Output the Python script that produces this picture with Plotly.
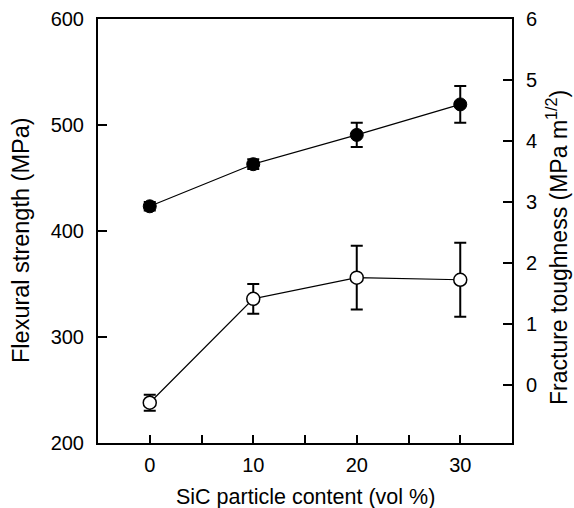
import plotly.graph_objects as go

sic_content = [0, 10, 20, 30]
flexural_strength = [238, 336, 356, 354]
flexural_err = [7.5, 14, 30, 35]
toughness = [2.93, 3.62, 4.10, 4.60]
toughness_err = [0.07, 0.08, 0.20, 0.30]

x_ticks = [0, 10, 20, 30]
y_ticks = [200, 300, 400, 500, 600]
y2_ticks = [0, 1, 2, 3, 4, 5, 6]

x_title = "SiC particle content (vol %)"
y_title = "Flexural strength (MPa)"
y2_title = "Fracture toughness (MPa m<sup>1/2</sup>)"

FONT = "Liberation Sans, Arial, Helvetica, sans-serif"

fig = go.Figure()

fig.add_trace(go.Scatter(
    x=sic_content, y=flexural_strength, mode="lines+markers",
    line=dict(color="black", width=1.2),
    marker=dict(symbol="circle", size=13, color="white",
                line=dict(color="black", width=1.5)),
    error_y=dict(type="data", array=flexural_err, visible=True,
                 color="black", thickness=2, width=6),
    yaxis="y", showlegend=False,
))

fig.add_trace(go.Scatter(
    x=sic_content, y=toughness, mode="lines+markers",
    line=dict(color="black", width=1.2),
    marker=dict(symbol="circle", size=13, color="black",
                line=dict(color="black", width=1)),
    error_y=dict(type="data", array=toughness_err, visible=True,
                 color="black", thickness=2, width=6),
    yaxis="y2", showlegend=False,
))

fig.update_layout(
    width=574, height=508,
    margin=dict(l=98, r=62, t=19, b=65),
    paper_bgcolor="white", plot_bgcolor="white",
    font=dict(family=FONT, size=20, color="black"),
    xaxis=dict(
        range=[-5, 35], tickvals=x_ticks, ticks="inside", ticklen=8,
        tickwidth=1.5, tickcolor="black",
        minor=dict(dtick=5, tick0=0, ticks="inside", ticklen=8, tickwidth=1.5, tickcolor="black"),
        showline=True, linecolor="black", linewidth=2, mirror=True,
        showgrid=False, zeroline=False, ticklabelstandoff=3, automargin=False,
        tickfont=dict(size=20),
    ),
    yaxis=dict(
        range=[200, 600], tickvals=y_ticks, ticks="inside", ticklen=9,
        tickwidth=1.5, tickcolor="black",
        showline=True, linecolor="black", linewidth=2,
        showgrid=False, zeroline=False, ticklabelstandoff=8, automargin=False,
        tickfont=dict(size=20),
    ),
    yaxis2=dict(
        range=[-0.95, 6], tickvals=y2_ticks, ticks="inside", ticklen=9,
        tickwidth=1.5, tickcolor="black", overlaying="y", side="right",
        showline=True, linecolor="black", linewidth=2,
        showgrid=False, zeroline=False, ticklabelstandoff=8, automargin=False,
        tickfont=dict(size=20),
    ),
    annotations=[
        dict(text=x_title, xref="paper", yref="paper", x=0.5, y=0,
             xanchor="center", yanchor="middle", yshift=-54, showarrow=False,
             font=dict(size=21.5)),
        dict(text=y_title, xref="paper", yref="paper", x=0, y=0.5,
             xanchor="center", yanchor="middle", xshift=-77, yshift=-9, textangle=-90,
             showarrow=False, font=dict(size=23.5)),
        dict(text=y2_title, xref="paper", yref="paper", x=1, y=0.5,
             xanchor="center", yanchor="middle", xshift=45, yshift=-17, textangle=-90,
             showarrow=False, font=dict(size=23)),
    ],
)

fig.write_html("out.html")
